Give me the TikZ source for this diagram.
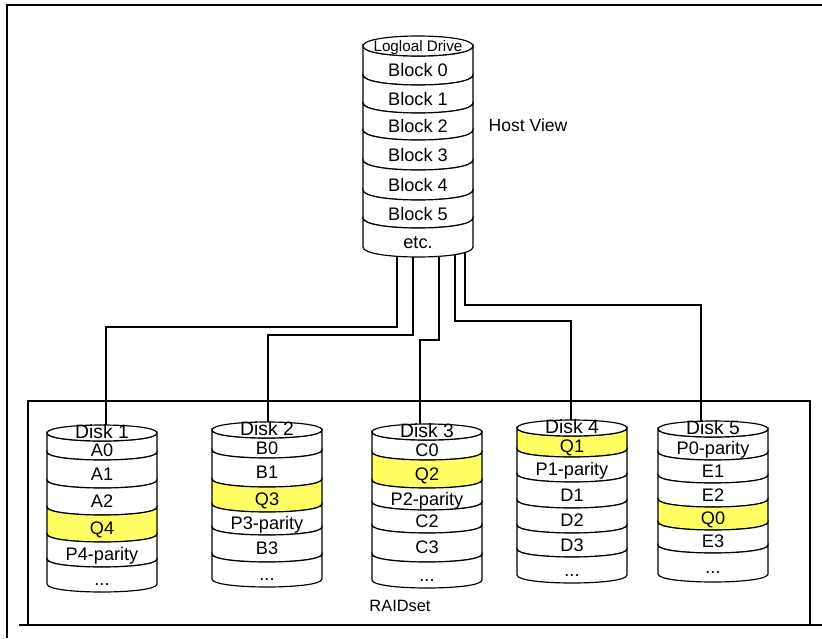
\documentclass[tikz,border=0pt]{standalone}
\usepackage{fontspec}
\setmainfont{Liberation Sans}
\definecolor{qyellow}{RGB}{255,255,100}
\newcommand{\moredots}{...}

% one cylinder: #1 name, #2 centre x, #3 top y, #4 arc depth, #5 bands (bottom/text/fill), #6 title
\newcommand{\raiddisk}[6]{%
  \foreach \boty/\txt/\col [remember=\boty as \prevy (initially #3), count=\k] in {#5} {
    \filldraw[cyl, fill=\col] (#2-55,\prevy) .. controls (#2-55,\prevy+4/3*#4) and (#2+55,\prevy+4/3*#4) .. (#2+55,\prevy)
      -- (#2+55,\boty) .. controls (#2+55,\boty+4/3*#4) and (#2-55,\boty+4/3*#4) .. (#2-55,\boty) -- cycle;
    \node[cyltext] (#1-\k) at (#2,{(\prevy+\boty)/2+#4+2.5}) {\txt};
  }
  \filldraw[cyl, fill=white] (#2-55,#3) .. controls (#2-55,#3-4/3*#4) and (#2+55,#3-4/3*#4) .. (#2+55,#3)
    .. controls (#2+55,#3+4/3*#4) and (#2-55,#3+4/3*#4) .. (#2-55,#3) -- cycle;
  \node[cyltext] (#1-top) at (#2,#3+1.5) {#6};
}

\begin{document}
\begin{tikzpicture}[x=0.3mm, y=-0.3mm,
    cyl/.style={draw=black, line width=1pt},
    cyltext/.style={font=\fontsize{15.5}{17}\selectfont, inner sep=0pt, text height=1.5ex, text depth=.25ex},
    wire/.style={line width=1pt},
    frame/.style={line width=1pt}]
    \useasboundingbox (0,0) rectangle (822,638);

    % frames
    \draw[frame] (822,5) -- (7,5) -- (7,638);
    \draw[frame] (28,625) -- (28,401) -- (810,401) -- (810,625);
    \draw[frame, line width=1.4pt] (19,625) -- (822,625);

    % wire ends
    \coordinate (h1) at (397,240);
    \coordinate (h2) at (413,240);
    \coordinate (h3) at (439,240);
    \coordinate (h4) at (455,240);
    \coordinate (h5) at (465,240);
    \coordinate (d1) at (106,433);
    \coordinate (d2) at (268,430);
    \coordinate (d3) at (420,432);
    \coordinate (d4) at (571,428);
    \coordinate (d5) at (701,429);

    \draw[wire] (h1) -- ++(0,87) -| (d1);
    \draw[wire] (h2) -- ++(0,95) -| (d2);
    \draw[wire] (h3) -- ++(0,100) -| (d3);
    \draw[wire] (h4) -- ++(0,81) -| (d4);
    \draw[wire] (h5) -- ++(0,65) -| (d5);

    % host drive
    \raiddisk{host}{418}{46}{10}{75/Block 0/white, 103/Block 1/white, 130/Block 2/white, 160/Block 3/white,
        190/Block 4/white, 218/Block 5/white, 247/etc./white}{\fontsize{13}{15}\selectfont Logloal Drive}
    \node[font=\fontsize{15}{17}\selectfont] (hostview) at (528,125) {Host View};

    % disks
    \raiddisk{disk1}{102}{433}{8}{452/A0/white, 480/A1/white, 507/A2/white, 534/Q4/qyellow,
        559/P4-parity/white, 584/\moredots/white}{\fontsize{16.5}{18}\selectfont Disk 1}
    \raiddisk{disk2}{267}{430}{8}{450/B0/white, 479/B1/white, 504/Q3/qyellow, 527/P3-parity/white,
        554/B3/white, 579/\moredots/white}{\fontsize{16.5}{18}\selectfont Disk 2}
    \raiddisk{disk3}{427}{432}{8}{452/C0/white, 480/Q2/qyellow, 502/P2-parity/white, 525/C2/white,
        554/C3/white, 580/\moredots/white}{\fontsize{16.5}{18}\selectfont Disk 3}
    \raiddisk{disk4}{572}{428}{8}{449/Q1/qyellow, 474/P1-parity/white, 500/D1/white, 525/D2/white,
        549/D3/white, 575/\moredots/white}{\fontsize{16.5}{18}\selectfont Disk 4}
    \raiddisk{disk5}{713}{429}{8}{452/P0-parity/white, 475/E1/white, 499/E2/white, 522/Q0/qyellow,
        545/E3/white, 574/\moredots/white}{\fontsize{16.5}{18}\selectfont Disk 5}

    \node[font=\fontsize{14}{16}\selectfont] (raidset) at (400,606) {RAIDset};
\end{tikzpicture}
\end{document}
